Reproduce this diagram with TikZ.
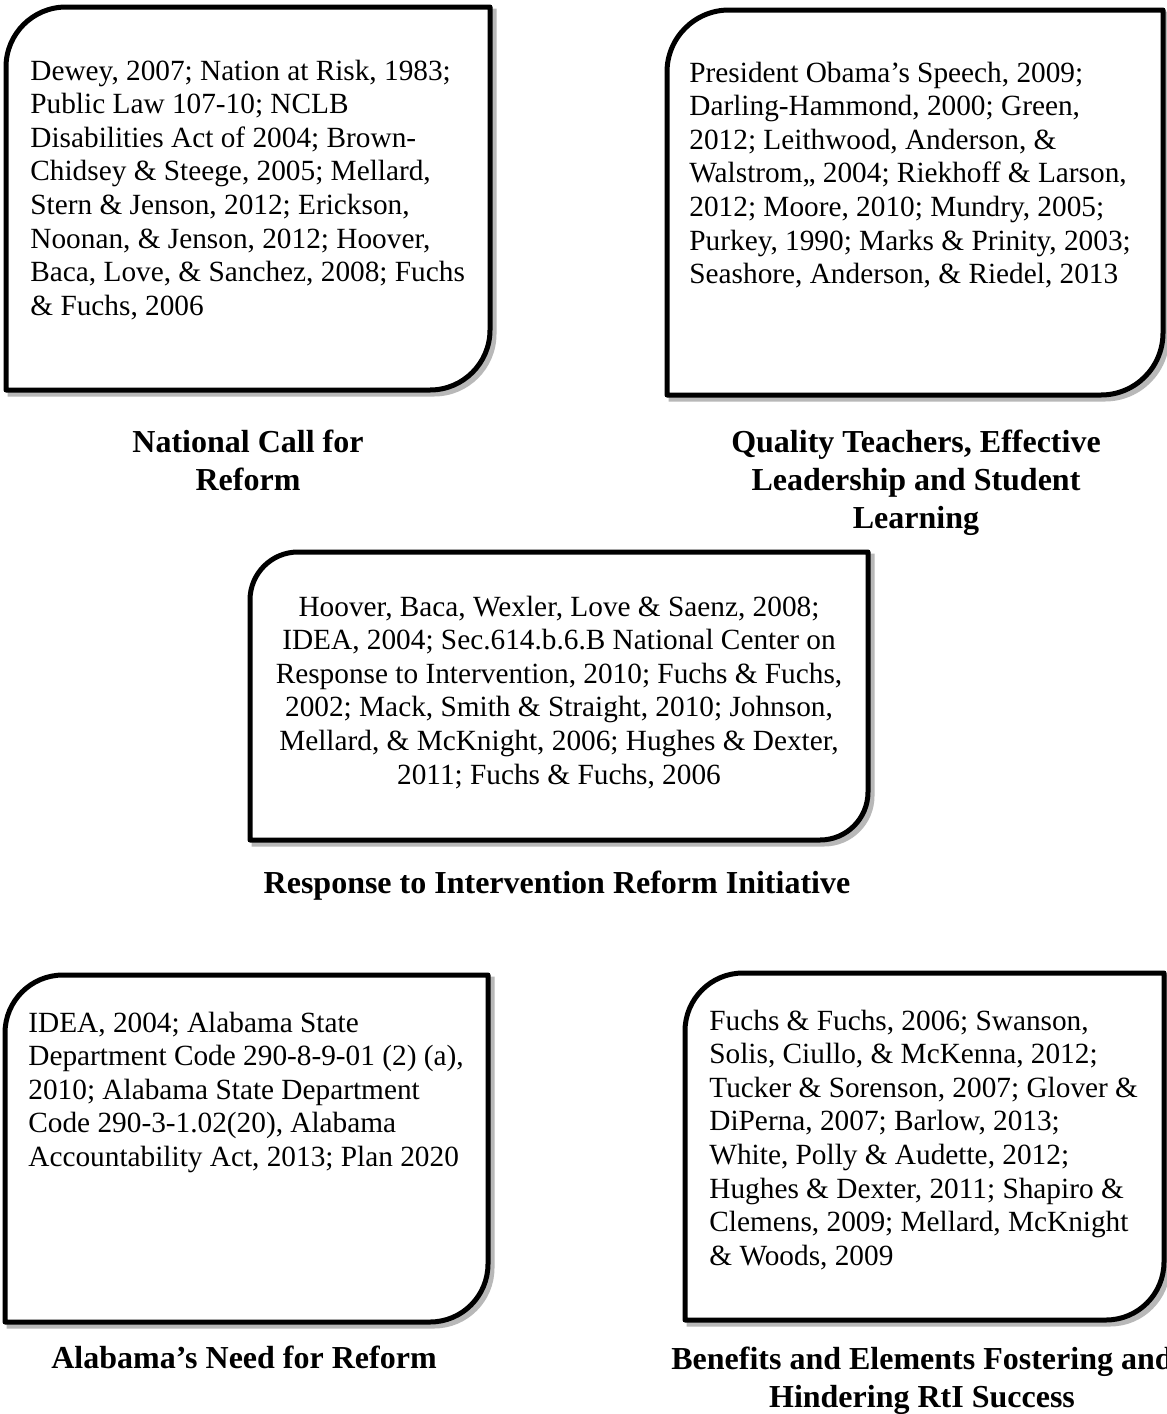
\documentclass[tikz,border=0pt]{standalone}
\usepackage{fontspec}
\setmainfont{Liberation Serif}
\newcommand\reffont{\fontsize{14.65pt}{16.8pt}\selectfont}
\newcommand\lblfont{\bfseries\fontsize{16pt}{19pt}\selectfont}
\newcommand\leftlines[1]{\begin{tabular}[t]{@{}l@{}}#1\end{tabular}}
\newcommand\centerlines[1]{\begin{tabular}[t]{@{}c@{}}#1\end{tabular}}
% x1 y1 x2 y2 r : rectangle with rounded top-left and bottom-right corners
\newcommand\cornerpath[5]{(#1,#2+#5) .. controls +(0,-0.5523*#5) and +(-0.5523*#5,0) .. (#1+#5,#2) -- (#3,#2) -- (#3,#4-#5) .. controls +(0,0.5523*#5) and +(0.5523*#5,0) .. (#3-#5,#4) -- (#1,#4) -- cycle}
\tikzset{
  boxline/.style={draw=black, fill=white, line width=2.5pt, line join=round},
  boxshadow/.style={fill=black!28, draw=black!28, line width=2.5pt, shift={(4,4)}},
  reftext/.style={anchor=base west, inner sep=0pt, font=\reffont},
  reftextc/.style={anchor=base, inner sep=0pt, font=\reffont},
  lbltext/.style={anchor=base, inner sep=0pt, font=\lblfont},
}
\begin{document}
\begin{tikzpicture}[x=0.5pt, y=-0.5pt]
\fill[white] (0,0) rectangle (1167,1414);
\useasboundingbox (0,0) rectangle (1167,1414);

% Box 1
\fill[boxshadow] \cornerpath{6}{7}{490}{390}{60};
\filldraw[boxline] \cornerpath{6}{7}{490}{390}{60};
\node[reftext] (t1) at (30,80) {\leftlines{Dewey, 2007; Nation at Risk, 1983;\\
Public Law 107-10; NCLB\\
Disabilities Act of 2004; Brown-\\
Chidsey \& Steege, 2005; Mellard,\\
Stern \& Jenson, 2012; Erickson,\\
Noonan, \& Jenson, 2012; Hoover,\\
Baca, Love, \& Sanchez, 2008; Fuchs\\
\& Fuchs, 2006}};
\node[lbltext] (l1) at (248,452) {\centerlines{National Call for\\Reform}};

% Box 2
\fill[boxshadow] \cornerpath{667}{10}{1163}{395}{62};
\filldraw[boxline] \cornerpath{667}{10}{1163}{395}{62};
\node[reftext] (t2) at (689,82) {\leftlines{President Obama’s Speech, 2009;\\
Darling-Hammond, 2000; Green,\\
2012; Leithwood, Anderson, \&\\
Walstrom,, 2004; Riekhoff \& Larson,\\
2012; Moore, 2010; Mundry, 2005;\\
Purkey, 1990; Marks \& Prinity, 2003;\\
Seashore, Anderson, \& Riedel, 2013}};
\node[lbltext] (l2) at (916,452) {\centerlines{Quality Teachers, Effective\\Leadership and Student\\Learning}};

% Box 3
\fill[boxshadow] \cornerpath{250}{552}{868}{840}{48};
\filldraw[boxline] \cornerpath{250}{552}{868}{840}{48};
\node[reftextc] (t3) at (559,616) {\centerlines{Hoover, Baca, Wexler, Love \& Saenz, 2008;\\
IDEA, 2004; Sec.614.b.6.B National Center on\\
Response to Intervention, 2010; Fuchs \& Fuchs,\\
2002; Mack, Smith \& Straight, 2010; Johnson,\\
Mellard, \& McKnight, 2006; Hughes \& Dexter,\\
2011; Fuchs \& Fuchs, 2006}};
\node[lbltext] (l3) at (557,893) {Response to Intervention Reform Initiative};

% Box 4
\fill[boxshadow] \cornerpath{5}{975}{488}{1322}{58};
\filldraw[boxline] \cornerpath{5}{975}{488}{1322}{58};
\node[reftext] (t4) at (28,1032) {\leftlines{IDEA, 2004; Alabama State\\
Department Code 290-8-9-01 (2) (a),\\
2010; Alabama State Department\\
Code 290-3-1.02(20), Alabama\\
Accountability Act, 2013; Plan 2020}};
\node[lbltext] (l4) at (244,1368) {Alabama’s Need for Reform};

% Box 5
\fill[boxshadow] \cornerpath{685}{973}{1164}{1320}{58};
\filldraw[boxline] \cornerpath{685}{973}{1164}{1320}{58};
\node[reftext] (t5) at (709,1030) {\leftlines{Fuchs \& Fuchs, 2006; Swanson,\\
Solis, Ciullo, \& McKenna, 2012;\\
Tucker \& Sorenson, 2007; Glover \&\\
DiPerna, 2007; Barlow, 2013;\\
White, Polly \& Audette, 2012;\\
Hughes \& Dexter, 2011; Shapiro \&\\
Clemens, 2009; Mellard, McKnight\\
\& Woods, 2009}};
\node[lbltext] (l5) at (922,1369) {\centerlines{Benefits and Elements Fostering and\\Hindering RtI Success}};
\end{tikzpicture}
\end{document}
